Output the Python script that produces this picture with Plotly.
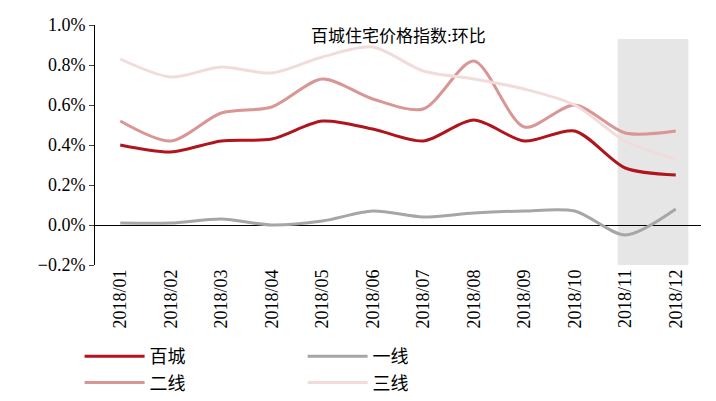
import plotly.graph_objs as go

months = ["2018/01", "2018/02", "2018/03", "2018/04", "2018/05", "2018/06",
          "2018/07", "2018/08", "2018/09", "2018/10", "2018/11", "2018/12"]
baicheng = [0.40, 0.365, 0.42, 0.43, 0.52, 0.48, 0.42, 0.525, 0.42, 0.47, 0.285, 0.25]
yixian = [0.01, 0.01, 0.03, 0.00, 0.02, 0.07, 0.04, 0.06, 0.07, 0.07, -0.05, 0.08]
erxian = [0.52, 0.42, 0.56, 0.59, 0.73, 0.63, 0.58, 0.82, 0.49, 0.60, 0.46, 0.47]
sanxian = [0.83, 0.74, 0.79, 0.76, 0.84, 0.89, 0.77, 0.73, 0.68, 0.60, 0.42, 0.33]

x = list(range(len(months)))
series = [("百城", baicheng, "#b0151d"), ("一线", yixian, "#a6a6a6"),
          ("二线", erxian, "#d99694"), ("三线", sanxian, "#f2dcdb")]

fig = go.Figure()
for name, vals, color in series:
    fig.add_trace(go.Scatter(x=x, y=vals, name=name, mode="lines",
                             line=dict(color=color, width=3, shape="spline", smoothing=0.8)))

# highlighted last two months
fig.add_shape(type="rect", xref="x", yref="y", x0=9.85, x1=11.25, y0=-0.2, y1=0.93,
              fillcolor="#e6e6e6", line_width=0, layer="below")

fig.add_annotation(text="百城住宅价格指数:环比", x=0.5, y=1.0, xref="paper", yref="paper",
                   xanchor="center", yanchor="top", showarrow=False,
                   font=dict(size=17, color="black"))

fig.update_layout(
    width=716, height=401, margin=dict(l=87, r=23, t=17, b=144, autoexpand=False),
    plot_bgcolor="white", paper_bgcolor="white",
    font=dict(family="Liberation Serif, Noto Sans CJK SC", size=18, color="black"),
    showlegend=True,
    legend=dict(orientation="h", xref="container", yref="container", x=0.1, xanchor="left",
                y=0.02, yanchor="bottom", font=dict(size=18),
                entrywidth=148, entrywidthmode="pixels", itemwidth=60),
    xaxis=dict(range=[-0.5, 11.5], tickvals=x, ticktext=months, tickangle=-90,
               showgrid=False, showline=False, zeroline=False, automargin=False),
    yaxis=dict(range=[-0.2, 1.0], dtick=0.2, tickformat=".1f", ticksuffix="%",
               showgrid=False, showline=True, linecolor="black", ticks="outside",
               ticklen=5, zeroline=True, zerolinecolor="black", zerolinewidth=1,
               automargin=False),
)

fig.write_html("out.html")
